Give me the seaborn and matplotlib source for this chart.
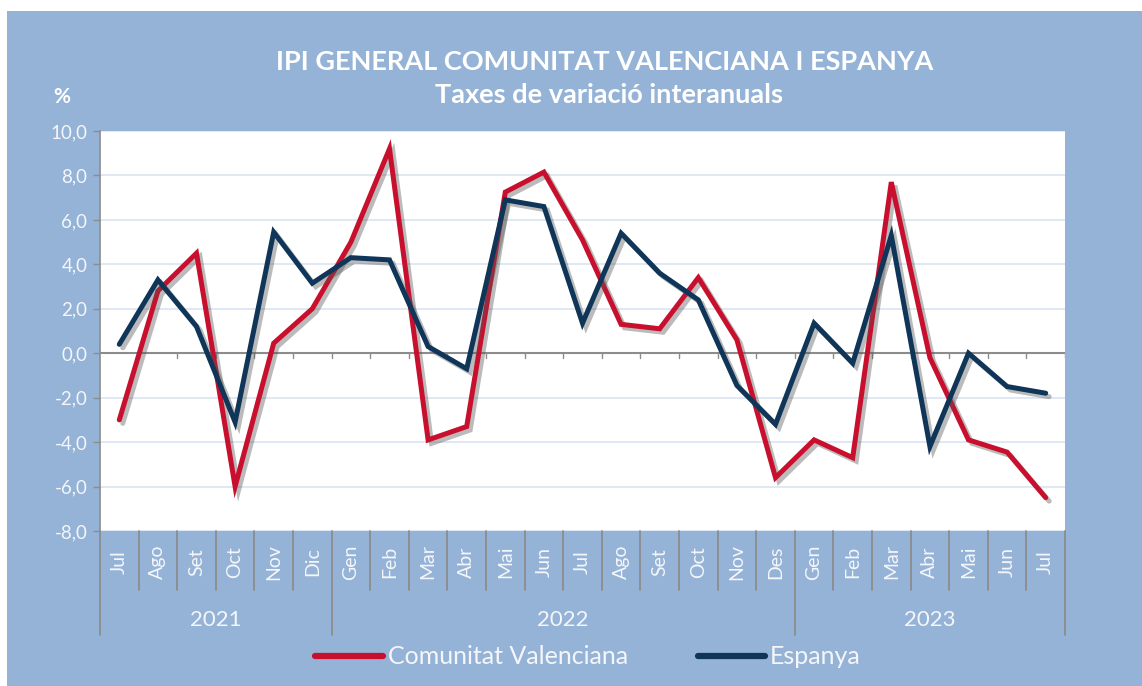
import numpy as np
import pandas as pd
import seaborn as sns
import matplotlib.pyplot as plt
from matplotlib import patheffects
from matplotlib.lines import Line2D
from matplotlib.patches import Rectangle

# dades llegides del gràfic
mesos = ['Jul', 'Ago', 'Set', 'Oct', 'Nov', 'Dic',
         'Gen', 'Feb', 'Mar', 'Abr', 'Mai', 'Jun', 'Jul', 'Ago', 'Set', 'Oct', 'Nov', 'Des',
         'Gen', 'Feb', 'Mar', 'Abr', 'Mai', 'Jun', 'Jul']
anys = ['2021', '2022', '2023']
mesos_per_any = [6, 12, 7]
cv = [-3.0, 2.8, 4.5, -6.0, 0.45, 2.0,
      5.0, 9.2, -3.9, -3.3, 7.25, 8.15, 5.1, 1.3, 1.1, 3.4, 0.6, -5.6,
      -3.9, -4.7, 7.7, -0.2, -3.9, -4.45, -6.5]
espanya = [0.4, 3.3, 1.2, -3.1, 5.45, 3.15,
           4.3, 4.2, 0.3, -0.7, 6.9, 6.6, 1.35, 5.4, 3.6, 2.4, -1.45, -3.2,
           1.35, -0.45, 5.3, -4.2, 0.0, -1.5, -1.8]
series = ['Comunitat Valenciana', 'Espanya']
colors = ['#C8102E', '#0F3558']

BG = '#95B3D7'
GRID = '#DCE6F2'
AXC = '#8C8C8C'
TXT = '#F4F6FA'

sns.set_theme(style='white')
plt.rcParams['font.family'] = ['Lato', 'DejaVu Sans']

n = len(mesos)
df = pd.DataFrame({
    'pos': list(range(n)) * 2,
    'valor': cv + espanya,
    'serie': [series[0]] * n + [series[1]] * n,
})

fig = plt.figure(figsize=(11.42, 6.86), dpi=100, facecolor='white')
W, H = 1142, 686
fig.patches.append(Rectangle((7 / W, 0), 1, 1 - 11 / H, transform=fig.transFigure,
                             facecolor=BG, edgecolor='none', zorder=-10))

L, R, T, B = 100, 1065, 131, 531
ax = fig.add_axes([L / W, 1 - B / H, (R - L) / W, (B - T) / H])
ax.set_facecolor('white')

for y in np.arange(-8, 11, 2):
    if y != 0:
        ax.axhline(y, color=GRID, lw=1.3, zorder=0)
ax.axhline(0, color=AXC, lw=1.5, zorder=1)

sns.lineplot(data=df, x='pos', y='valor', hue='serie', palette=colors,
             linewidth=3.6, legend=False, ax=ax, zorder=3)
for line in ax.lines[-2:]:
    line.set_path_effects([patheffects.SimpleLineShadow(offset=(2.5, -2.5), shadow_color='#555555', alpha=0.4),
                           patheffects.Normal()])
    line.set_solid_joinstyle('miter')

ax.set_xlim(-0.5, n - 0.5)
ax.set_ylim(-8, 10)
ax.set_yticks(np.arange(-8, 11, 2))
ax.set_yticklabels([f'{v:.1f}'.replace('.', ',') for v in np.arange(-8, 11, 2)],
                   color=TXT, fontsize=13.5)
ax.tick_params(axis='y', which='both', left=True, length=5, color=AXC, width=1, pad=4)
ax.set_xticks([])
ax.set_xlabel('')
ax.set_ylabel('')
for s in ['top', 'right', 'bottom']:
    ax.spines[s].set_visible(False)
ax.spines['left'].set_color(AXC)
ax.spines['left'].set_linewidth(1.2)

# petites marques sobre l'eix zero
for b in range(1, n + 1):
    ax.plot([b - 0.5, b - 0.5], [0, -0.2], color=AXC, lw=1, zorder=1)

# etiquetes de mesos i separadors
trans = ax.get_xaxis_transform()
month_end = -(590 - B) / (B - T)
year_end = -(635 - B) / (B - T)
for i, m in enumerate(mesos):
    ax.text(i, -(562 - B) / (B - T), m, transform=trans, rotation=90, ha='center', va='center',
            color=TXT, fontsize=14)
year_bounds = np.cumsum([0] + mesos_per_any)
for b in range(n + 1):
    bot = year_end if b in year_bounds else month_end
    ax.plot([b - 0.5, b - 0.5], [0, bot], transform=trans, color=AXC, lw=1.3, clip_on=False)
for k, a in enumerate(anys):
    centre = (year_bounds[k] + year_bounds[k + 1]) / 2 - 0.5
    ax.text(centre, -(620 - B) / (B - T), a, transform=trans, ha='center', va='center',
            color=TXT, fontsize=16)

# títols
fig.text(605 / W, 1 - 62 / H, 'IPI GENERAL COMUNITAT VALENCIANA I ESPANYA', ha='center', va='center',
         color='white', fontsize=19.5, fontweight='bold')
fig.text(609 / W, 1 - 95 / H, 'Taxes de variació interanuals', ha='center', va='center',
         color='white', fontsize=19.5, fontweight='bold')
fig.text(62 / W, 1 - 97 / H, '%', ha='center', va='center', color='white', fontsize=15, fontweight='bold')

handles = [Line2D([], [], color=c, lw=4.5) for c in colors]
fig.legend(handles, series, loc='center', bbox_to_anchor=(588 / W, 1 - 657 / H), ncol=2,
           frameon=False, fontsize=18, labelcolor=TXT, handlelength=2.7, handletextpad=0.2,
           columnspacing=2.8)

fig.savefig('out.png', dpi=100, facecolor=fig.get_facecolor())
